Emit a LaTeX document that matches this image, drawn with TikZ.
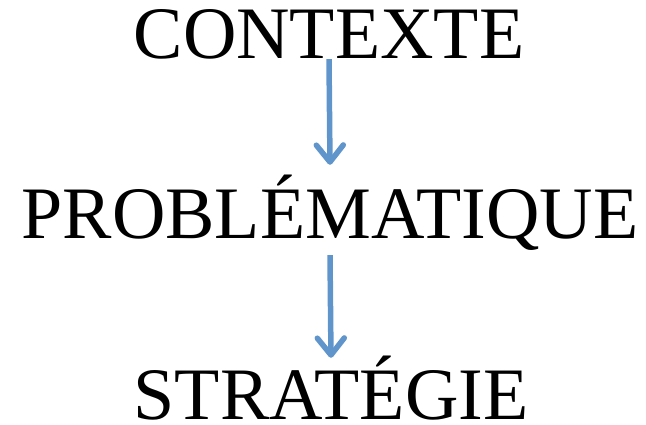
\documentclass[tikz,border=0pt]{standalone}
\usepackage{fontspec}
\setmainfont{Liberation Serif}
\usetikzlibrary{arrows.meta, calc}
\definecolor{arrblue}{RGB}{96,149,204}
\begin{document}
\begin{tikzpicture}[x=1pt, y=1pt,
      word/.style={font=\fontsize{74}{80}\selectfont, inner sep=0pt, text height=50pt, text depth=0pt},
      arr/.style={draw=arrblue, line width=5.5pt, -{Straight Barb[length=17pt, width=27pt, round]}}]
    \useasboundingbox (0,0) rectangle (646,425);
    \node[word, anchor=base] (ctx) at (329,366) {CONTEXTE};
    \node[word, anchor=base] (pb)  at (330,186) {PROBLÉMATIQUE};
    \node[word, anchor=base] (st)  at (331,5)   {STRATÉGIE};
    \draw[arr] (ctx.south) -- ($(pb.north)+(0,24)$);
    \draw[arr] ($(pb.south)+(0,-16)$) -- ($(st.north)+(0,12)$);
  \end{tikzpicture}
\end{document}
